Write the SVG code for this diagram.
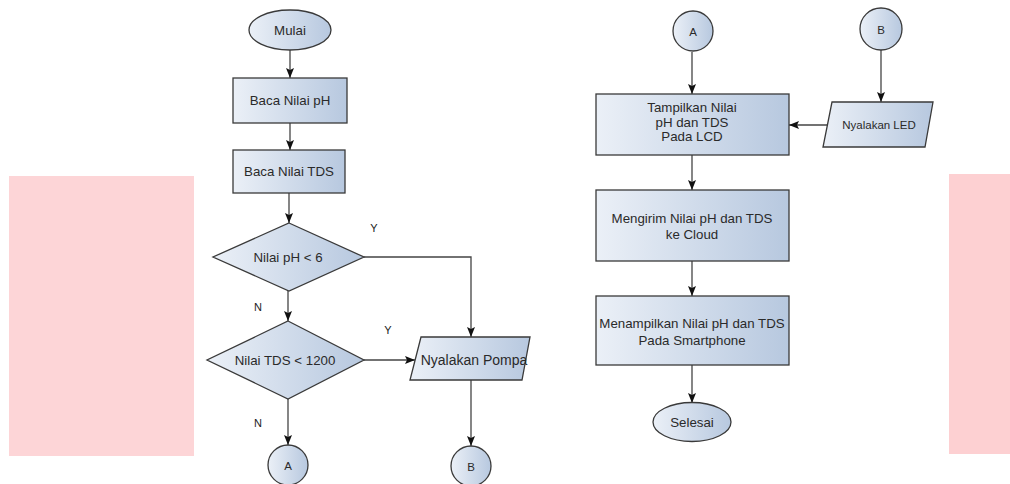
<svg xmlns="http://www.w3.org/2000/svg" width="1010" height="484" viewBox="0 0 1010 484">
<defs>
<linearGradient id="g" x1="0" y1="0" x2="1" y2="0">
<stop offset="0" stop-color="#ebf0f7"/>
<stop offset="1" stop-color="#b7c8df"/>
</linearGradient>
<marker id="ah" markerUnits="userSpaceOnUse" markerWidth="10" markerHeight="10" refX="10" refY="5" orient="auto">
<path d="M0,1 L10,5 L0,9 L2,5 z" fill="#111"/>
</marker>
<style>
.s{fill:url(#g);stroke:#3a3a3a;stroke-width:1.3}
.t{font-family:"Liberation Sans",Arial,sans-serif;font-size:13.3px;fill:#2a2a2a;text-anchor:middle}
.sm{font-size:11.5px}
.lg{font-size:14px}
.lb{font-family:"Liberation Sans",Arial,sans-serif;font-size:11px;fill:#222;text-anchor:middle}
.c{fill:none;stroke:#444;stroke-width:1.3;marker-end:url(#ah)}
</style>
</defs>
<rect x="0" y="0" width="1010" height="484" fill="#fff"/>
<rect x="9" y="176" width="185" height="280" fill="#fdd5d7"/>
<rect x="949" y="174" width="61" height="280" fill="#fdd0d2"/>

<g id="connectors">
<path class="c" d="M290,50 V78"/>
<path class="c" d="M290,123 V150"/>
<path class="c" d="M289,193 V223"/>
<path class="c" d="M364,257 H471 V337"/>
<path class="c" d="M288,291 V321"/>
<path class="c" d="M364,360 H415"/>
<path class="c" d="M288,399 V445"/>
<path class="c" d="M471,380 V446"/>
<path class="c" d="M692,52 V94"/>
<path class="c" d="M881,50 V102"/>
<path class="c" d="M827,125 H789"/>
<path class="c" d="M692,155 V190"/>
<path class="c" d="M692,261 V296"/>
<path class="c" d="M692,365 V403"/>
</g>

<g id="mulai"><ellipse class="s" cx="290" cy="30" rx="41" ry="20"/><text class="t" x="290" y="35">Mulai</text></g>
<g id="baca-ph"><rect class="s" x="233" y="78" width="114" height="45"/><text class="t" x="290" y="105">Baca Nilai pH</text></g>
<g id="baca-tds"><rect class="s" x="233" y="150" width="112" height="43"/><text class="t" x="289" y="176">Baca Nilai TDS</text></g>
<g id="dec-ph"><polygon class="s" points="289,223 364,257 289,291 213,257"/><text class="t" x="288" y="262">Nilai pH &lt; 6</text></g>
<g id="dec-tds"><polygon class="s" points="288,321 364,360 288,399 207,360"/><text class="t" x="285" y="365">Nilai TDS &lt; 1200</text></g>
<g id="pompa"><polygon class="s" points="421,337 530,337 522,380 410,380"/><text class="t lg" x="474" y="365">Nyalakan Pompa</text></g>
<g id="a-bot"><circle class="s" cx="288" cy="465" r="20"/><text class="t sm" x="288" y="470">A</text></g>
<g id="b-bot"><circle class="s" cx="471" cy="466" r="20"/><text class="t sm" x="471" y="471">B</text></g>

<g id="labels">
<text class="lb" x="374" y="232">Y</text>
<text class="lb" x="258" y="311">N</text>
<text class="lb" x="388" y="334">Y</text>
<text class="lb" x="258" y="427">N</text>
</g>

<g id="a-top"><circle class="s" cx="693" cy="31" r="20"/><text class="t sm" x="693" y="36">A</text></g>
<g id="b-top"><circle class="s" cx="881" cy="29" r="21"/><text class="t sm" x="881" y="34">B</text></g>
<g id="tampilkan"><rect class="s" x="596" y="94" width="193" height="61"/>
<text class="t" x="692" y="112">Tampilkan Nilai</text>
<text class="t" x="692" y="127">pH dan TDS</text>
<text class="t" x="692" y="141">Pada LCD</text></g>
<g id="led"><polygon class="s" points="832,102 933,102 925,147 823,147"/><text class="t sm" x="879" y="129">Nyalakan LED</text></g>
<g id="mengirim"><rect class="s" x="596" y="190" width="193" height="71"/>
<text class="t" x="692" y="223">Mengirim Nilai pH dan TDS</text>
<text class="t" x="692" y="239">ke Cloud</text></g>
<g id="menampilkan"><rect class="s" x="596" y="296" width="193" height="69"/>
<text class="t" x="692" y="328">Menampilkan Nilai pH dan TDS</text>
<text class="t" x="692" y="345">Pada Smartphone</text></g>
<g id="selesai"><ellipse class="s" cx="692" cy="422" rx="39" ry="19.5"/><text class="t" x="692" y="427">Selesai</text></g>
</svg>
